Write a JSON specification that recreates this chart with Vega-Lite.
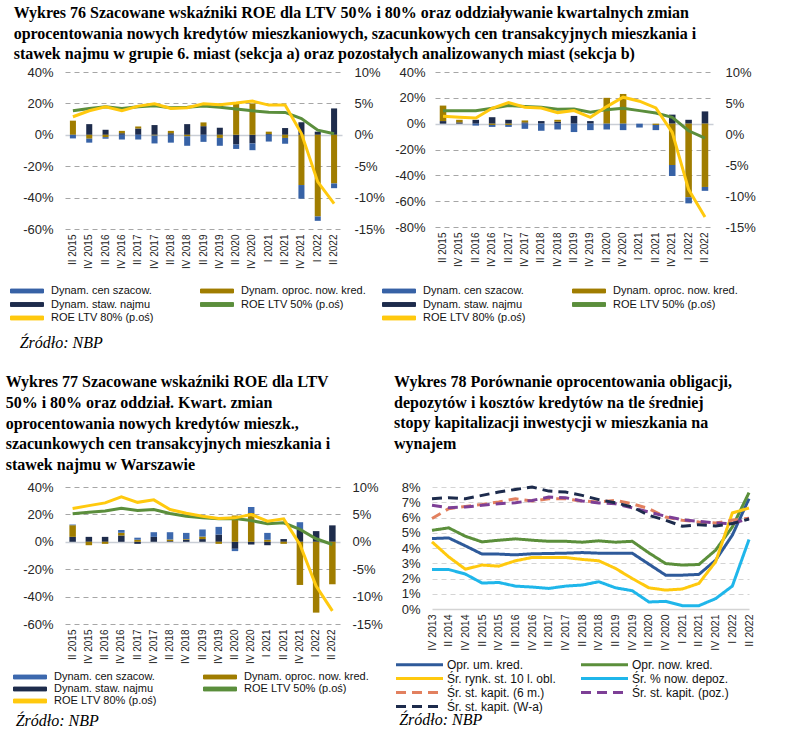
{
  "$schema": "https://vega.github.io/schema/vega-lite/v6.json",
  "background": "white",
  "padding": {"left": 5, "top": 5, "right": 5, "bottom": 0},
  "config": {
    "view": {"stroke": null},
    "font": "Liberation Sans",
    "axis": {"domain": false, "ticks": false, "labelFont": "Liberation Sans", "labelColor": "#262626"},
    "legend": {"labelFont": "Liberation Sans", "labelColor": "#111111"}
  },
  "datasets": {
    "b76a": [
      {"q":"II 2015","s":"Dynam. staw. najmu","v":0},{"q":"II 2015","s":"Dynam. oproc. now. kred.","v":9},{"q":"II 2015","s":"Dynam. cen szacow.","v":-2.3},
      {"q":"IV 2015","s":"Dynam. staw. najmu","v":6.8},{"q":"IV 2015","s":"Dynam. oproc. now. kred.","v":-2.5},{"q":"IV 2015","s":"Dynam. cen szacow.","v":-2.5},
      {"q":"II 2016","s":"Dynam. staw. najmu","v":3.2},{"q":"II 2016","s":"Dynam. oproc. now. kred.","v":-1.5},{"q":"II 2016","s":"Dynam. cen szacow.","v":-1},
      {"q":"IV 2016","s":"Dynam. staw. najmu","v":1},{"q":"IV 2016","s":"Dynam. oproc. now. kred.","v":1.5},{"q":"IV 2016","s":"Dynam. cen szacow.","v":-3},
      {"q":"II 2017","s":"Dynam. staw. najmu","v":4},{"q":"II 2017","s":"Dynam. oproc. now. kred.","v":1.3},{"q":"II 2017","s":"Dynam. cen szacow.","v":-3},
      {"q":"IV 2017","s":"Dynam. staw. najmu","v":6.2},{"q":"IV 2017","s":"Dynam. oproc. now. kred.","v":-0.5},{"q":"IV 2017","s":"Dynam. cen szacow.","v":-5},
      {"q":"II 2018","s":"Dynam. staw. najmu","v":1},{"q":"II 2018","s":"Dynam. oproc. now. kred.","v":1.5},{"q":"II 2018","s":"Dynam. cen szacow.","v":-5},
      {"q":"IV 2018","s":"Dynam. staw. najmu","v":6.8},{"q":"IV 2018","s":"Dynam. oproc. now. kred.","v":-1},{"q":"IV 2018","s":"Dynam. cen szacow.","v":-6},
      {"q":"II 2019","s":"Dynam. staw. najmu","v":5.5},{"q":"II 2019","s":"Dynam. oproc. now. kred.","v":2.4},{"q":"II 2019","s":"Dynam. cen szacow.","v":-4.5},
      {"q":"IV 2019","s":"Dynam. staw. najmu","v":4.5},{"q":"IV 2019","s":"Dynam. oproc. now. kred.","v":-2},{"q":"IV 2019","s":"Dynam. cen szacow.","v":-5},
      {"q":"II 2020","s":"Dynam. staw. najmu","v":-6.2},{"q":"II 2020","s":"Dynam. oproc. now. kred.","v":20},{"q":"II 2020","s":"Dynam. cen szacow.","v":-2.8},
      {"q":"IV 2020","s":"Dynam. staw. najmu","v":-5.5},{"q":"IV 2020","s":"Dynam. oproc. now. kred.","v":20},{"q":"IV 2020","s":"Dynam. cen szacow.","v":-4.3},
      {"q":"I 2021","s":"Dynam. staw. najmu","v":0.5},{"q":"I 2021","s":"Dynam. oproc. now. kred.","v":1.5},{"q":"I 2021","s":"Dynam. cen szacow.","v":-4.3},
      {"q":"II 2021","s":"Dynam. staw. najmu","v":4.3},{"q":"II 2021","s":"Dynam. oproc. now. kred.","v":-2},{"q":"II 2021","s":"Dynam. cen szacow.","v":-3.7},
      {"q":"IV 2021","s":"Dynam. staw. najmu","v":8},{"q":"IV 2021","s":"Dynam. oproc. now. kred.","v":-32},{"q":"IV 2021","s":"Dynam. cen szacow.","v":-8.7},
      {"q":"I 2022","s":"Dynam. staw. najmu","v":2},{"q":"I 2022","s":"Dynam. oproc. now. kred.","v":-52},{"q":"I 2022","s":"Dynam. cen szacow.","v":-2.8},
      {"q":"II 2022","s":"Dynam. staw. najmu","v":16.8},{"q":"II 2022","s":"Dynam. oproc. now. kred.","v":-31},{"q":"II 2022","s":"Dynam. cen szacow.","v":-3}
    ],
    "l76a": [
      {"q":"II 2015","s":"ROE LTV 50% (p.oś)","v":3.83},{"q":"IV 2015","s":"ROE LTV 50% (p.oś)","v":4.2},{"q":"II 2016","s":"ROE LTV 50% (p.oś)","v":4.47},{"q":"IV 2016","s":"ROE LTV 50% (p.oś)","v":4.2},{"q":"II 2017","s":"ROE LTV 50% (p.oś)","v":4.47},{"q":"IV 2017","s":"ROE LTV 50% (p.oś)","v":4.63},{"q":"II 2018","s":"ROE LTV 50% (p.oś)","v":4.3},{"q":"IV 2018","s":"ROE LTV 50% (p.oś)","v":4.4},{"q":"II 2019","s":"ROE LTV 50% (p.oś)","v":4.57},{"q":"IV 2019","s":"ROE LTV 50% (p.oś)","v":4.4},{"q":"II 2020","s":"ROE LTV 50% (p.oś)","v":4.1},{"q":"IV 2020","s":"ROE LTV 50% (p.oś)","v":3.83},{"q":"I 2021","s":"ROE LTV 50% (p.oś)","v":3.6},{"q":"II 2021","s":"ROE LTV 50% (p.oś)","v":3.56},{"q":"IV 2021","s":"ROE LTV 50% (p.oś)","v":2.6},{"q":"I 2022","s":"ROE LTV 50% (p.oś)","v":0.74},{"q":"II 2022","s":"ROE LTV 50% (p.oś)","v":0.16},
      {"q":"II 2015","s":"ROE LTV 80% (p.oś)","v":2.87},{"q":"IV 2015","s":"ROE LTV 80% (p.oś)","v":3.83},{"q":"II 2016","s":"ROE LTV 80% (p.oś)","v":4.47},{"q":"IV 2016","s":"ROE LTV 80% (p.oś)","v":3.83},{"q":"II 2017","s":"ROE LTV 80% (p.oś)","v":4.57},{"q":"IV 2017","s":"ROE LTV 80% (p.oś)","v":4.95},{"q":"II 2018","s":"ROE LTV 80% (p.oś)","v":4.2},{"q":"IV 2018","s":"ROE LTV 80% (p.oś)","v":4.3},{"q":"II 2019","s":"ROE LTV 80% (p.oś)","v":4.95},{"q":"IV 2019","s":"ROE LTV 80% (p.oś)","v":4.8},{"q":"II 2020","s":"ROE LTV 80% (p.oś)","v":5.05},{"q":"IV 2020","s":"ROE LTV 80% (p.oś)","v":5.37},{"q":"I 2021","s":"ROE LTV 80% (p.oś)","v":4.73},{"q":"II 2021","s":"ROE LTV 80% (p.oś)","v":4.73},{"q":"IV 2021","s":"ROE LTV 80% (p.oś)","v":0.2},{"q":"I 2022","s":"ROE LTV 80% (p.oś)","v":-7.5},{"q":"II 2022","s":"ROE LTV 80% (p.oś)","v":-10.96}
    ],
    "b76b": [
      {"q":"II 2015","s":"Dynam. staw. najmu","v":2},{"q":"II 2015","s":"Dynam. oproc. now. kred.","v":12},{"q":"II 2015","s":"Dynam. cen szacow.","v":0},
      {"q":"IV 2015","s":"Dynam. staw. najmu","v":1},{"q":"IV 2015","s":"Dynam. oproc. now. kred.","v":2},{"q":"IV 2015","s":"Dynam. cen szacow.","v":0},
      {"q":"II 2016","s":"Dynam. staw. najmu","v":3},{"q":"II 2016","s":"Dynam. oproc. now. kred.","v":0},{"q":"II 2016","s":"Dynam. cen szacow.","v":-1.5},
      {"q":"IV 2016","s":"Dynam. staw. najmu","v":5},{"q":"IV 2016","s":"Dynam. oproc. now. kred.","v":-1},{"q":"IV 2016","s":"Dynam. cen szacow.","v":-1.5},
      {"q":"II 2017","s":"Dynam. staw. najmu","v":3},{"q":"II 2017","s":"Dynam. oproc. now. kred.","v":-1},{"q":"II 2017","s":"Dynam. cen szacow.","v":-1.5},
      {"q":"IV 2017","s":"Dynam. staw. najmu","v":1},{"q":"IV 2017","s":"Dynam. oproc. now. kred.","v":1.5},{"q":"IV 2017","s":"Dynam. cen szacow.","v":-4},
      {"q":"II 2018","s":"Dynam. staw. najmu","v":2},{"q":"II 2018","s":"Dynam. oproc. now. kred.","v":0},{"q":"II 2018","s":"Dynam. cen szacow.","v":-5.5},
      {"q":"IV 2018","s":"Dynam. staw. najmu","v":1.5},{"q":"IV 2018","s":"Dynam. oproc. now. kred.","v":1.5},{"q":"IV 2018","s":"Dynam. cen szacow.","v":-4.5},
      {"q":"II 2019","s":"Dynam. staw. najmu","v":6},{"q":"II 2019","s":"Dynam. oproc. now. kred.","v":0},{"q":"II 2019","s":"Dynam. cen szacow.","v":-6.5},
      {"q":"IV 2019","s":"Dynam. staw. najmu","v":2},{"q":"IV 2019","s":"Dynam. oproc. now. kred.","v":0},{"q":"IV 2019","s":"Dynam. cen szacow.","v":-5},
      {"q":"II 2020","s":"Dynam. staw. najmu","v":0},{"q":"II 2020","s":"Dynam. oproc. now. kred.","v":20},{"q":"II 2020","s":"Dynam. cen szacow.","v":-4.5},
      {"q":"IV 2020","s":"Dynam. staw. najmu","v":0},{"q":"IV 2020","s":"Dynam. oproc. now. kred.","v":23},{"q":"IV 2020","s":"Dynam. cen szacow.","v":-5},
      {"q":"I 2021","s":"Dynam. staw. najmu","v":0},{"q":"I 2021","s":"Dynam. oproc. now. kred.","v":0},{"q":"I 2021","s":"Dynam. cen szacow.","v":-3},
      {"q":"II 2021","s":"Dynam. staw. najmu","v":0},{"q":"II 2021","s":"Dynam. oproc. now. kred.","v":-1},{"q":"II 2021","s":"Dynam. cen szacow.","v":-4},
      {"q":"IV 2021","s":"Dynam. staw. najmu","v":7},{"q":"IV 2021","s":"Dynam. oproc. now. kred.","v":-32},{"q":"IV 2021","s":"Dynam. cen szacow.","v":-8.5},
      {"q":"I 2022","s":"Dynam. staw. najmu","v":3},{"q":"I 2022","s":"Dynam. oproc. now. kred.","v":-57},{"q":"I 2022","s":"Dynam. cen szacow.","v":-4.7},
      {"q":"II 2022","s":"Dynam. staw. najmu","v":9.5},{"q":"II 2022","s":"Dynam. oproc. now. kred.","v":-49},{"q":"II 2022","s":"Dynam. cen szacow.","v":-3}
    ],
    "l76b": [
      {"q":"II 2015","s":"ROE LTV 50% (p.oś)","v":3.77},{"q":"IV 2015","s":"ROE LTV 50% (p.oś)","v":3.77},{"q":"II 2016","s":"ROE LTV 50% (p.oś)","v":3.77},{"q":"IV 2016","s":"ROE LTV 50% (p.oś)","v":4.15},{"q":"II 2017","s":"ROE LTV 50% (p.oś)","v":4.58},{"q":"IV 2017","s":"ROE LTV 50% (p.oś)","v":4.42},{"q":"II 2018","s":"ROE LTV 50% (p.oś)","v":4.31},{"q":"IV 2018","s":"ROE LTV 50% (p.oś)","v":3.99},{"q":"II 2019","s":"ROE LTV 50% (p.oś)","v":4.04},{"q":"IV 2019","s":"ROE LTV 50% (p.oś)","v":3.5},{"q":"II 2020","s":"ROE LTV 50% (p.oś)","v":3.93},{"q":"IV 2020","s":"ROE LTV 50% (p.oś)","v":4.15},{"q":"I 2021","s":"ROE LTV 50% (p.oś)","v":3.77},{"q":"II 2021","s":"ROE LTV 50% (p.oś)","v":3.39},{"q":"IV 2021","s":"ROE LTV 50% (p.oś)","v":2.69},{"q":"I 2022","s":"ROE LTV 50% (p.oś)","v":0.52},{"q":"II 2022","s":"ROE LTV 50% (p.oś)","v":-0.67},
      {"q":"II 2015","s":"ROE LTV 80% (p.oś)","v":2.85},{"q":"IV 2015","s":"ROE LTV 80% (p.oś)","v":2.69},{"q":"II 2016","s":"ROE LTV 80% (p.oś)","v":2.58},{"q":"IV 2016","s":"ROE LTV 80% (p.oś)","v":4.15},{"q":"II 2017","s":"ROE LTV 80% (p.oś)","v":5.07},{"q":"IV 2017","s":"ROE LTV 80% (p.oś)","v":4.31},{"q":"II 2018","s":"ROE LTV 80% (p.oś)","v":4.2},{"q":"IV 2018","s":"ROE LTV 80% (p.oś)","v":3.45},{"q":"II 2019","s":"ROE LTV 80% (p.oś)","v":3.77},{"q":"IV 2019","s":"ROE LTV 80% (p.oś)","v":2.69},{"q":"II 2020","s":"ROE LTV 80% (p.oś)","v":4.42},{"q":"IV 2020","s":"ROE LTV 80% (p.oś)","v":5.94},{"q":"I 2021","s":"ROE LTV 80% (p.oś)","v":5.29},{"q":"II 2021","s":"ROE LTV 80% (p.oś)","v":4.2},{"q":"IV 2021","s":"ROE LTV 80% (p.oś)","v":0.25},{"q":"I 2022","s":"ROE LTV 80% (p.oś)","v":-8.95},{"q":"II 2022","s":"ROE LTV 80% (p.oś)","v":-13.4}
    ],
    "b77": [
      {"q":"II 2015","s":"Dynam. staw. najmu","v":3.6},{"q":"II 2015","s":"Dynam. oproc. now. kred.","v":8.5},{"q":"II 2015","s":"Dynam. cen szacow.","v":0.5},
      {"q":"IV 2015","s":"Dynam. staw. najmu","v":3.6},{"q":"IV 2015","s":"Dynam. oproc. now. kred.","v":-2.5},{"q":"IV 2015","s":"Dynam. cen szacow.","v":0},
      {"q":"II 2016","s":"Dynam. staw. najmu","v":3.6},{"q":"II 2016","s":"Dynam. oproc. now. kred.","v":-1.5},{"q":"II 2016","s":"Dynam. cen szacow.","v":0},
      {"q":"IV 2016","s":"Dynam. staw. najmu","v":4.6},{"q":"IV 2016","s":"Dynam. oproc. now. kred.","v":2},{"q":"IV 2016","s":"Dynam. cen szacow.","v":2},
      {"q":"II 2017","s":"Dynam. staw. najmu","v":-1.5},{"q":"II 2017","s":"Dynam. oproc. now. kred.","v":1.5},{"q":"II 2017","s":"Dynam. cen szacow.","v":1.5},
      {"q":"IV 2017","s":"Dynam. staw. najmu","v":3.6},{"q":"IV 2017","s":"Dynam. oproc. now. kred.","v":0},{"q":"IV 2017","s":"Dynam. cen szacow.","v":3.4},
      {"q":"II 2018","s":"Dynam. staw. najmu","v":0.5},{"q":"II 2018","s":"Dynam. oproc. now. kred.","v":1.2},{"q":"II 2018","s":"Dynam. cen szacow.","v":5.3},
      {"q":"IV 2018","s":"Dynam. staw. najmu","v":1.5},{"q":"IV 2018","s":"Dynam. oproc. now. kred.","v":0.5},{"q":"IV 2018","s":"Dynam. cen szacow.","v":4.5},
      {"q":"II 2019","s":"Dynam. staw. najmu","v":2},{"q":"II 2019","s":"Dynam. oproc. now. kred.","v":1.8},{"q":"II 2019","s":"Dynam. cen szacow.","v":5.2},
      {"q":"IV 2019","s":"Dynam. staw. najmu","v":5.3},{"q":"IV 2019","s":"Dynam. oproc. now. kred.","v":-1.5},{"q":"IV 2019","s":"Dynam. cen szacow.","v":5.6},
      {"q":"II 2020","s":"Dynam. staw. najmu","v":-5.1},{"q":"II 2020","s":"Dynam. oproc. now. kred.","v":19.2},{"q":"II 2020","s":"Dynam. cen szacow.","v":-1.7},
      {"q":"IV 2020","s":"Dynam. staw. najmu","v":-2},{"q":"IV 2020","s":"Dynam. oproc. now. kred.","v":21},{"q":"IV 2020","s":"Dynam. cen szacow.","v":4.4},
      {"q":"I 2021","s":"Dynam. staw. najmu","v":-2.5},{"q":"I 2021","s":"Dynam. oproc. now. kred.","v":1.5},{"q":"I 2021","s":"Dynam. cen szacow.","v":5},
      {"q":"II 2021","s":"Dynam. staw. najmu","v":2},{"q":"II 2021","s":"Dynam. oproc. now. kred.","v":-1.5},{"q":"II 2021","s":"Dynam. cen szacow.","v":0},
      {"q":"IV 2021","s":"Dynam. staw. najmu","v":9},{"q":"IV 2021","s":"Dynam. oproc. now. kred.","v":-31.5},{"q":"IV 2021","s":"Dynam. cen szacow.","v":5.3},
      {"q":"I 2022","s":"Dynam. staw. najmu","v":7.8},{"q":"I 2022","s":"Dynam. oproc. now. kred.","v":-51.7},{"q":"I 2022","s":"Dynam. cen szacow.","v":0},
      {"q":"II 2022","s":"Dynam. staw. najmu","v":12},{"q":"II 2022","s":"Dynam. oproc. now. kred.","v":-31},{"q":"II 2022","s":"Dynam. cen szacow.","v":0}
    ],
    "l77": [
      {"q":"II 2015","s":"ROE LTV 50% (p.oś)","v":5.1},{"q":"IV 2015","s":"ROE LTV 50% (p.oś)","v":5.4},{"q":"II 2016","s":"ROE LTV 50% (p.oś)","v":5.64},{"q":"IV 2016","s":"ROE LTV 50% (p.oś)","v":6.13},{"q":"II 2017","s":"ROE LTV 50% (p.oś)","v":5.7},{"q":"IV 2017","s":"ROE LTV 50% (p.oś)","v":5.9},{"q":"II 2018","s":"ROE LTV 50% (p.oś)","v":5.16},{"q":"IV 2018","s":"ROE LTV 50% (p.oś)","v":4.67},{"q":"II 2019","s":"ROE LTV 50% (p.oś)","v":4.37},{"q":"IV 2019","s":"ROE LTV 50% (p.oś)","v":4.19},{"q":"II 2020","s":"ROE LTV 50% (p.oś)","v":4.25},{"q":"IV 2020","s":"ROE LTV 50% (p.oś)","v":3.88},{"q":"I 2021","s":"ROE LTV 50% (p.oś)","v":3.28},{"q":"II 2021","s":"ROE LTV 50% (p.oś)","v":3.46},{"q":"IV 2021","s":"ROE LTV 50% (p.oś)","v":2.25},{"q":"I 2022","s":"ROE LTV 50% (p.oś)","v":0.55},{"q":"II 2022","s":"ROE LTV 50% (p.oś)","v":-0.49},
      {"q":"II 2015","s":"ROE LTV 80% (p.oś)","v":6.07},{"q":"IV 2015","s":"ROE LTV 80% (p.oś)","v":6.6},{"q":"II 2016","s":"ROE LTV 80% (p.oś)","v":7.1},{"q":"IV 2016","s":"ROE LTV 80% (p.oś)","v":8.2},{"q":"II 2017","s":"ROE LTV 80% (p.oś)","v":7.2},{"q":"IV 2017","s":"ROE LTV 80% (p.oś)","v":7.65},{"q":"II 2018","s":"ROE LTV 80% (p.oś)","v":5.9},{"q":"IV 2018","s":"ROE LTV 80% (p.oś)","v":5.2},{"q":"II 2019","s":"ROE LTV 80% (p.oś)","v":4.67},{"q":"IV 2019","s":"ROE LTV 80% (p.oś)","v":4.25},{"q":"II 2020","s":"ROE LTV 80% (p.oś)","v":4.37},{"q":"IV 2020","s":"ROE LTV 80% (p.oś)","v":4.98},{"q":"I 2021","s":"ROE LTV 80% (p.oś)","v":3.76},{"q":"II 2021","s":"ROE LTV 80% (p.oś)","v":4.19},{"q":"IV 2021","s":"ROE LTV 80% (p.oś)","v":-0.5},{"q":"I 2022","s":"ROE LTV 80% (p.oś)","v":-8.07},{"q":"II 2022","s":"ROE LTV 80% (p.oś)","v":-12.6}
    ],
    "l78": [
      {"q":"IV 2013","s":"Opr. um. kred.","v":4.62},{"q":"II 2014","s":"Opr. um. kred.","v":4.66},{"q":"IV 2014","s":"Opr. um. kred.","v":4.14},{"q":"II 2015","s":"Opr. um. kred.","v":3.6},{"q":"IV 2015","s":"Opr. um. kred.","v":3.6},{"q":"II 2016","s":"Opr. um. kred.","v":3.55},{"q":"IV 2016","s":"Opr. um. kred.","v":3.62},{"q":"II 2017","s":"Opr. um. kred.","v":3.64},{"q":"IV 2017","s":"Opr. um. kred.","v":3.66},{"q":"II 2018","s":"Opr. um. kred.","v":3.7},{"q":"IV 2018","s":"Opr. um. kred.","v":3.66},{"q":"II 2019","s":"Opr. um. kred.","v":3.66},{"q":"IV 2019","s":"Opr. um. kred.","v":3.66},{"q":"II 2020","s":"Opr. um. kred.","v":2.94},{"q":"IV 2020","s":"Opr. um. kred.","v":2.22},{"q":"I 2021","s":"Opr. um. kred.","v":2.22},{"q":"II 2021","s":"Opr. um. kred.","v":2.27},{"q":"IV 2021","s":"Opr. um. kred.","v":3.2},{"q":"I 2022","s":"Opr. um. kred.","v":4.84},{"q":"II 2022","s":"Opr. um. kred.","v":7.23},
      {"q":"IV 2013","s":"Opr. now. kred.","v":5.16},{"q":"II 2014","s":"Opr. now. kred.","v":5.32},{"q":"IV 2014","s":"Opr. now. kred.","v":4.77},{"q":"II 2015","s":"Opr. now. kred.","v":4.4},{"q":"IV 2015","s":"Opr. now. kred.","v":4.51},{"q":"II 2016","s":"Opr. now. kred.","v":4.6},{"q":"IV 2016","s":"Opr. now. kred.","v":4.51},{"q":"II 2017","s":"Opr. now. kred.","v":4.44},{"q":"IV 2017","s":"Opr. now. kred.","v":4.44},{"q":"II 2018","s":"Opr. now. kred.","v":4.38},{"q":"IV 2018","s":"Opr. now. kred.","v":4.47},{"q":"II 2019","s":"Opr. now. kred.","v":4.38},{"q":"IV 2019","s":"Opr. now. kred.","v":4.44},{"q":"II 2020","s":"Opr. now. kred.","v":3.68},{"q":"IV 2020","s":"Opr. now. kred.","v":2.98},{"q":"I 2021","s":"Opr. now. kred.","v":2.88},{"q":"II 2021","s":"Opr. now. kred.","v":2.92},{"q":"IV 2021","s":"Opr. now. kred.","v":3.86},{"q":"I 2022","s":"Opr. now. kred.","v":5.38},{"q":"II 2022","s":"Opr. now. kred.","v":7.63},
      {"q":"IV 2013","s":"Śr. rynk. st. 10 l. obl.","v":4.4},{"q":"II 2014","s":"Śr. rynk. st. 10 l. obl.","v":3.42},{"q":"IV 2014","s":"Śr. rynk. st. 10 l. obl.","v":2.61},{"q":"II 2015","s":"Śr. rynk. st. 10 l. obl.","v":2.88},{"q":"IV 2015","s":"Śr. rynk. st. 10 l. obl.","v":2.81},{"q":"II 2016","s":"Śr. rynk. st. 10 l. obl.","v":3.16},{"q":"IV 2016","s":"Śr. rynk. st. 10 l. obl.","v":3.38},{"q":"II 2017","s":"Śr. rynk. st. 10 l. obl.","v":3.38},{"q":"IV 2017","s":"Śr. rynk. st. 10 l. obl.","v":3.38},{"q":"II 2018","s":"Śr. rynk. st. 10 l. obl.","v":3.25},{"q":"IV 2018","s":"Śr. rynk. st. 10 l. obl.","v":3.16},{"q":"II 2019","s":"Śr. rynk. st. 10 l. obl.","v":2.66},{"q":"IV 2019","s":"Śr. rynk. st. 10 l. obl.","v":2.0},{"q":"II 2020","s":"Śr. rynk. st. 10 l. obl.","v":1.39},{"q":"IV 2020","s":"Śr. rynk. st. 10 l. obl.","v":1.24},{"q":"I 2021","s":"Śr. rynk. st. 10 l. obl.","v":1.31},{"q":"II 2021","s":"Śr. rynk. st. 10 l. obl.","v":1.68},{"q":"IV 2021","s":"Śr. rynk. st. 10 l. obl.","v":3.1},{"q":"I 2022","s":"Śr. rynk. st. 10 l. obl.","v":6.3},{"q":"II 2022","s":"Śr. rynk. st. 10 l. obl.","v":6.62},
      {"q":"IV 2013","s":"Śr. % now. depoz.","v":2.59},{"q":"II 2014","s":"Śr. % now. depoz.","v":2.59},{"q":"IV 2014","s":"Śr. % now. depoz.","v":2.29},{"q":"II 2015","s":"Śr. % now. depoz.","v":1.7},{"q":"IV 2015","s":"Śr. % now. depoz.","v":1.74},{"q":"II 2016","s":"Śr. % now. depoz.","v":1.5},{"q":"IV 2016","s":"Śr. % now. depoz.","v":1.44},{"q":"II 2017","s":"Śr. % now. depoz.","v":1.35},{"q":"IV 2017","s":"Śr. % now. depoz.","v":1.5},{"q":"II 2018","s":"Śr. % now. depoz.","v":1.57},{"q":"IV 2018","s":"Śr. % now. depoz.","v":1.79},{"q":"II 2019","s":"Śr. % now. depoz.","v":1.39},{"q":"IV 2019","s":"Śr. % now. depoz.","v":1.2},{"q":"II 2020","s":"Śr. % now. depoz.","v":0.46},{"q":"IV 2020","s":"Śr. % now. depoz.","v":0.5},{"q":"I 2021","s":"Śr. % now. depoz.","v":0.22},{"q":"II 2021","s":"Śr. % now. depoz.","v":0.22},{"q":"IV 2021","s":"Śr. % now. depoz.","v":0.68},{"q":"I 2022","s":"Śr. % now. depoz.","v":1.5},{"q":"II 2022","s":"Śr. % now. depoz.","v":4.55},
      {"q":"IV 2013","s":"Śr. st. kapit. (6 m.)","v":5.93},{"q":"II 2014","s":"Śr. st. kapit. (6 m.)","v":6.58},{"q":"IV 2014","s":"Śr. st. kapit. (6 m.)","v":6.73},{"q":"II 2015","s":"Śr. st. kapit. (6 m.)","v":6.86},{"q":"IV 2015","s":"Śr. st. kapit. (6 m.)","v":7.02},{"q":"II 2016","s":"Śr. st. kapit. (6 m.)","v":7.23},{"q":"IV 2016","s":"Śr. st. kapit. (6 m.)","v":7.08},{"q":"II 2017","s":"Śr. st. kapit. (6 m.)","v":7.23},{"q":"IV 2017","s":"Śr. st. kapit. (6 m.)","v":7.23},{"q":"II 2018","s":"Śr. st. kapit. (6 m.)","v":7.08},{"q":"IV 2018","s":"Śr. st. kapit. (6 m.)","v":7.02},{"q":"II 2019","s":"Śr. st. kapit. (6 m.)","v":7.12},{"q":"IV 2019","s":"Śr. st. kapit. (6 m.)","v":6.9},{"q":"II 2020","s":"Śr. st. kapit. (6 m.)","v":6.58},{"q":"IV 2020","s":"Śr. st. kapit. (6 m.)","v":6.03},{"q":"I 2021","s":"Śr. st. kapit. (6 m.)","v":5.82},{"q":"II 2021","s":"Śr. st. kapit. (6 m.)","v":5.71},{"q":"IV 2021","s":"Śr. st. kapit. (6 m.)","v":5.64},{"q":"I 2022","s":"Śr. st. kapit. (6 m.)","v":5.82},{"q":"II 2022","s":"Śr. st. kapit. (6 m.)","v":5.95},
      {"q":"IV 2013","s":"Śr. st. kapit. (poz.)","v":6.8},{"q":"II 2014","s":"Śr. st. kapit. (poz.)","v":6.64},{"q":"IV 2014","s":"Śr. st. kapit. (poz.)","v":6.69},{"q":"II 2015","s":"Śr. st. kapit. (poz.)","v":6.8},{"q":"IV 2015","s":"Śr. st. kapit. (poz.)","v":6.9},{"q":"II 2016","s":"Śr. st. kapit. (poz.)","v":6.97},{"q":"IV 2016","s":"Śr. st. kapit. (poz.)","v":7.12},{"q":"II 2017","s":"Śr. st. kapit. (poz.)","v":7.34},{"q":"IV 2017","s":"Śr. st. kapit. (poz.)","v":7.3},{"q":"II 2018","s":"Śr. st. kapit. (poz.)","v":7.08},{"q":"IV 2018","s":"Śr. st. kapit. (poz.)","v":6.95},{"q":"II 2019","s":"Śr. st. kapit. (poz.)","v":6.9},{"q":"IV 2019","s":"Śr. st. kapit. (poz.)","v":6.64},{"q":"II 2020","s":"Śr. st. kapit. (poz.)","v":6.36},{"q":"IV 2020","s":"Śr. st. kapit. (poz.)","v":6.08},{"q":"I 2021","s":"Śr. st. kapit. (poz.)","v":5.86},{"q":"II 2021","s":"Śr. st. kapit. (poz.)","v":5.75},{"q":"IV 2021","s":"Śr. st. kapit. (poz.)","v":5.64},{"q":"I 2022","s":"Śr. st. kapit. (poz.)","v":5.6},{"q":"II 2022","s":"Śr. st. kapit. (poz.)","v":5.93},
      {"q":"IV 2013","s":"Śr. st. kapit. (W-a)","v":7.23},{"q":"II 2014","s":"Śr. st. kapit. (W-a)","v":7.3},{"q":"IV 2014","s":"Śr. st. kapit. (W-a)","v":7.23},{"q":"II 2015","s":"Śr. st. kapit. (W-a)","v":7.45},{"q":"IV 2015","s":"Śr. st. kapit. (W-a)","v":7.67},{"q":"II 2016","s":"Śr. st. kapit. (W-a)","v":7.84},{"q":"IV 2016","s":"Śr. st. kapit. (W-a)","v":8.0},{"q":"II 2017","s":"Śr. st. kapit. (W-a)","v":7.73},{"q":"IV 2017","s":"Śr. st. kapit. (W-a)","v":7.67},{"q":"II 2018","s":"Śr. st. kapit. (W-a)","v":7.45},{"q":"IV 2018","s":"Śr. st. kapit. (W-a)","v":7.17},{"q":"II 2019","s":"Śr. st. kapit. (W-a)","v":6.97},{"q":"IV 2019","s":"Śr. st. kapit. (W-a)","v":6.69},{"q":"II 2020","s":"Śr. st. kapit. (W-a)","v":6.14},{"q":"IV 2020","s":"Śr. st. kapit. (W-a)","v":5.82},{"q":"I 2021","s":"Śr. st. kapit. (W-a)","v":5.43},{"q":"II 2021","s":"Śr. st. kapit. (W-a)","v":5.53},{"q":"IV 2021","s":"Śr. st. kapit. (W-a)","v":5.45},{"q":"I 2022","s":"Śr. st. kapit. (W-a)","v":5.6},{"q":"II 2022","s":"Śr. st. kapit. (W-a)","v":5.9}
    ]
  },
  "vconcat": [
    {
      "title": {"text": ["Wykres 76 Szacowane wskaźniki ROE dla LTV 50% i 80% oraz oddziaływanie kwartalnych zmian", "oprocentowania nowych kredytów mieszkaniowych, szacunkowych cen transakcyjnych mieszkania i", "stawek najmu w grupie 6. miast (sekcja a) oraz pozostałych analizowanych miast (sekcja b)"], "anchor": "start", "frame": "bounds", "font": "Liberation Serif", "fontSize": 16, "fontWeight": "bold", "color": "#000000", "lineHeight": 20.3, "offset": 4, "dx": -6},
      "spacing": 9,
      "resolve": {"scale": {"color": "independent"}, "legend": {"color": "independent"}},
      "hconcat": [
        {
          "width": 277, "height": 157,
          "title": {"text": "Źródło: NBP", "orient": "bottom", "anchor": "start", "frame": "bounds", "font": "Liberation Serif", "fontStyle": "italic", "fontWeight": "normal", "fontSize": 16, "color": "#000000", "offset": 12, "dx": -3},
          "layer": [
            {
              "data": {"name": "b76a"},
              "mark": "bar",
              "encoding": {
                "x": {"field": "q", "type": "nominal", "sort": ["II 2015","IV 2015","II 2016","IV 2016","II 2017","IV 2017","II 2018","IV 2018","II 2019","IV 2019","II 2020","IV 2020","I 2021","II 2021","IV 2021","I 2022","II 2022"], "scale": {"paddingInner": 0.63, "paddingOuter": 0.3}, "axis": {"title": null, "labelAngle": -90, "labelFontSize": 10, "labelPadding": 5, "labelOverlap": false, "grid": false}},
                "y": {"field": "v", "type": "quantitative", "stack": "zero", "scale": {"domain": [-60, 40], "nice": false}, "axis": {"title": null, "values": [-60,-40,-20,0,20,40], "labelExpr": "datum.value + '%'", "labelFontSize": 13, "labelPadding": 12, "grid": true, "gridColor": {"condition": {"test": "datum.value === 0", "value": "#C9CED6"}, "value": "#A6A6A6"}, "gridDash": {"condition": {"test": "datum.value === 0", "value": []}, "value": [5, 4]}, "gridWidth": {"condition": {"test": "datum.value === 0", "value": 1.5}, "value": 1}}},
                "color": {"field": "s", "type": "nominal", "scale": {"domain": ["Dynam. cen szacow.","Dynam. oproc. now. kred.","Dynam. staw. najmu","ROE LTV 50% (p.oś)","ROE LTV 80% (p.oś)"], "range": ["#3762A6","#A07D00","#1E2C4C","#5B8E3C","#FFC90E"]}, "legend": {"orient": "none", "legendX": -39, "legendY": 213, "direction": "horizontal", "columns": 2, "title": null, "symbolType": "M-3,-0.35H3V0.35H-3Z", "symbolSize": 121, "symbolStrokeWidth": 1, "symbolOffset": -5, "labelFontSize": 11, "labelOffset": 18, "columnPadding": 44, "rowPadding": 2.5}},
                "order": {"field": "s", "sort": "descending"}
              }
            },
            {
              "data": {"name": "l76a"},
              "mark": {"type": "line", "strokeWidth": 3},
              "encoding": {
                "x": {"field": "q", "type": "nominal", "sort": ["II 2015","IV 2015","II 2016","IV 2016","II 2017","IV 2017","II 2018","IV 2018","II 2019","IV 2019","II 2020","IV 2020","I 2021","II 2021","IV 2021","I 2022","II 2022"], "scale": {"paddingInner": 0.63, "paddingOuter": 0.3}, "axis": {"title": null, "labelAngle": -90, "labelFontSize": 10, "labelPadding": 5, "labelOverlap": false, "grid": false}},
                "y": {"field": "v", "type": "quantitative", "scale": {"domain": [-15, 10], "nice": false}, "axis": {"title": null, "orient": "right", "values": [-15,-10,-5,0,5,10], "labelExpr": "datum.value + '%'", "labelFontSize": 13, "labelPadding": 12, "grid": false}},
                "color": {"field": "s", "type": "nominal", "scale": {"domain": ["Dynam. cen szacow.","Dynam. oproc. now. kred.","Dynam. staw. najmu","ROE LTV 50% (p.oś)","ROE LTV 80% (p.oś)"], "range": ["#3762A6","#A07D00","#1E2C4C","#5B8E3C","#FFC90E"]}, "legend": {"orient": "none", "legendX": -39, "legendY": 213, "direction": "horizontal", "columns": 2, "title": null, "symbolType": "M-3,-0.35H3V0.35H-3Z", "symbolSize": 121, "symbolStrokeWidth": 1, "symbolOffset": -5, "labelFontSize": 11, "labelOffset": 18, "columnPadding": 44, "rowPadding": 2.5}}
              }
            }
          ],
          "resolve": {"scale": {"y": "independent"}}
        },
        {
          "width": 278, "height": 155,
          "layer": [
            {
              "data": {"name": "b76b"},
              "mark": "bar",
              "encoding": {
                "x": {"field": "q", "type": "nominal", "sort": ["II 2015","IV 2015","II 2016","IV 2016","II 2017","IV 2017","II 2018","IV 2018","II 2019","IV 2019","II 2020","IV 2020","I 2021","II 2021","IV 2021","I 2022","II 2022"], "scale": {"paddingInner": 0.6, "paddingOuter": 0.29}, "axis": {"title": null, "labelAngle": -90, "labelFontSize": 10, "labelPadding": 5, "labelOverlap": false, "grid": false}},
                "y": {"field": "v", "type": "quantitative", "stack": "zero", "scale": {"domain": [-80, 40], "nice": false}, "axis": {"title": null, "values": [-80,-60,-40,-20,0,20,40], "labelExpr": "datum.value + '%'", "labelFontSize": 13, "labelPadding": 10, "grid": true, "gridColor": {"condition": {"test": "datum.value === 0", "value": "#C9CED6"}, "value": "#A6A6A6"}, "gridDash": {"condition": {"test": "datum.value === 0", "value": []}, "value": [5, 4]}, "gridWidth": {"condition": {"test": "datum.value === 0", "value": 1.5}, "value": 1}}},
                "color": {"field": "s", "type": "nominal", "scale": {"domain": ["Dynam. cen szacow.","Dynam. oproc. now. kred.","Dynam. staw. najmu","ROE LTV 50% (p.oś)","ROE LTV 80% (p.oś)"], "range": ["#3762A6","#A07D00","#1E2C4C","#5B8E3C","#FFC90E"]}, "legend": {"orient": "none", "legendX": -37, "legendY": 213, "direction": "horizontal", "columns": 2, "title": null, "symbolType": "M-3,-0.35H3V0.35H-3Z", "symbolSize": 121, "symbolStrokeWidth": 1, "symbolOffset": -5, "labelFontSize": 11, "labelOffset": 18, "columnPadding": 44, "rowPadding": 2.5}},
                "order": {"field": "s", "sort": "descending"}
              }
            },
            {
              "data": {"name": "l76b"},
              "mark": {"type": "line", "strokeWidth": 3},
              "encoding": {
                "x": {"field": "q", "type": "nominal", "sort": ["II 2015","IV 2015","II 2016","IV 2016","II 2017","IV 2017","II 2018","IV 2018","II 2019","IV 2019","II 2020","IV 2020","I 2021","II 2021","IV 2021","I 2022","II 2022"], "scale": {"paddingInner": 0.6, "paddingOuter": 0.29}, "axis": {"title": null, "labelAngle": -90, "labelFontSize": 10, "labelPadding": 5, "labelOverlap": false, "grid": false}},
                "y": {"field": "v", "type": "quantitative", "scale": {"domain": [-15, 10], "nice": false}, "axis": {"title": null, "orient": "right", "values": [-15,-10,-5,0,5,10], "labelExpr": "datum.value + '%'", "labelFontSize": 13, "labelPadding": 12, "grid": false}},
                "color": {"field": "s", "type": "nominal", "scale": {"domain": ["Dynam. cen szacow.","Dynam. oproc. now. kred.","Dynam. staw. najmu","ROE LTV 50% (p.oś)","ROE LTV 80% (p.oś)"], "range": ["#3762A6","#A07D00","#1E2C4C","#5B8E3C","#FFC90E"]}, "legend": {"orient": "none", "legendX": -37, "legendY": 213, "direction": "horizontal", "columns": 2, "title": null, "symbolType": "M-3,-0.35H3V0.35H-3Z", "symbolSize": 121, "symbolStrokeWidth": 1, "symbolOffset": -5, "labelFontSize": 11, "labelOffset": 18, "columnPadding": 44, "rowPadding": 2.5}}
              }
            }
          ],
          "resolve": {"scale": {"y": "independent"}}
        }
      ]
    },
    {
      "spacing": 11,
      "resolve": {"scale": {"color": "independent", "strokeDash": "independent"}, "legend": {"color": "independent", "strokeDash": "independent"}},
      "hconcat": [
        {
          "title": {"text": ["Wykres 77 Szacowane wskaźniki ROE dla LTV", "50% i 80% oraz oddział. Kwart. zmian", "oprocentowania nowych kredytów mieszk.,", "szacunkowych cen transakcyjnych mieszkania i", "stawek najmu w Warszawie"], "anchor": "start", "frame": "bounds", "font": "Liberation Serif", "fontSize": 16, "fontWeight": "bold", "color": "#000000", "lineHeight": 20.7, "offset": 8, "dx": -10},
          "vconcat": [
            {
              "width": 275, "height": 137,
              "title": {"text": "Źródło: NBP", "orient": "bottom", "anchor": "start", "frame": "bounds", "font": "Liberation Serif", "fontStyle": "italic", "fontWeight": "normal", "fontSize": 16, "color": "#000000", "offset": 50, "dx": -7},
              "layer": [
                {
                  "data": {"name": "b77"},
                  "mark": "bar",
                  "encoding": {
                    "x": {"field": "q", "type": "nominal", "sort": ["II 2015","IV 2015","II 2016","IV 2016","II 2017","IV 2017","II 2018","IV 2018","II 2019","IV 2019","II 2020","IV 2020","I 2021","II 2021","IV 2021","I 2022","II 2022"], "scale": {"paddingInner": 0.6, "paddingOuter": 0.27}, "axis": {"title": null, "labelAngle": -90, "labelFontSize": 10, "labelPadding": 5, "labelOverlap": false, "grid": false}},
                    "y": {"field": "v", "type": "quantitative", "stack": "zero", "scale": {"domain": [-60, 40], "nice": false}, "axis": {"title": null, "values": [-60,-40,-20,0,20,40], "labelExpr": "datum.value + '%'", "labelFontSize": 13, "labelPadding": 12, "grid": true, "gridColor": {"condition": {"test": "datum.value === 0", "value": "#C9CED6"}, "value": "#A6A6A6"}, "gridDash": {"condition": {"test": "datum.value === 0", "value": []}, "value": [5, 4]}, "gridWidth": {"condition": {"test": "datum.value === 0", "value": 1.5}, "value": 1}}},
                    "color": {"field": "s", "type": "nominal", "scale": {"domain": ["Dynam. cen szacow.","Dynam. oproc. now. kred.","Dynam. staw. najmu","ROE LTV 50% (p.oś)","ROE LTV 80% (p.oś)"], "range": ["#3D69AE","#A07D00","#1E2C4C","#5B8E3C","#FFC90E"]}, "legend": {"orient": "none", "legendX": -36, "legendY": 184, "direction": "horizontal", "columns": 2, "title": null, "symbolType": "M-3,-0.35H3V0.35H-3Z", "symbolSize": 121, "symbolStrokeWidth": 1, "symbolOffset": -5, "labelFontSize": 11, "labelOffset": 18, "columnPadding": 44, "rowPadding": 1}},
                    "order": {"field": "s", "sort": "descending"}
                  }
                },
                {
                  "data": {"name": "l77"},
                  "mark": {"type": "line", "strokeWidth": 3},
                  "encoding": {
                    "x": {"field": "q", "type": "nominal", "sort": ["II 2015","IV 2015","II 2016","IV 2016","II 2017","IV 2017","II 2018","IV 2018","II 2019","IV 2019","II 2020","IV 2020","I 2021","II 2021","IV 2021","I 2022","II 2022"], "scale": {"paddingInner": 0.6, "paddingOuter": 0.27}, "axis": {"title": null, "labelAngle": -90, "labelFontSize": 10, "labelPadding": 5, "labelOverlap": false, "grid": false}},
                    "y": {"field": "v", "type": "quantitative", "scale": {"domain": [-15, 10], "nice": false}, "axis": {"title": null, "orient": "right", "values": [-15,-10,-5,0,5,10], "labelExpr": "datum.value + '%'", "labelFontSize": 13, "labelPadding": 12, "grid": false}},
                    "color": {"field": "s", "type": "nominal", "scale": {"domain": ["Dynam. cen szacow.","Dynam. oproc. now. kred.","Dynam. staw. najmu","ROE LTV 50% (p.oś)","ROE LTV 80% (p.oś)"], "range": ["#3D69AE","#A07D00","#1E2C4C","#5B8E3C","#FFC90E"]}, "legend": {"orient": "none", "legendX": -36, "legendY": 184, "direction": "horizontal", "columns": 2, "title": null, "symbolType": "M-3,-0.35H3V0.35H-3Z", "symbolSize": 121, "symbolStrokeWidth": 1, "symbolOffset": -5, "labelFontSize": 11, "labelOffset": 18, "columnPadding": 44, "rowPadding": 1}}
                  }
                }
              ],
              "resolve": {"scale": {"y": "independent"}}
            }
          ]
        },
        {
          "title": {"text": ["Wykres 78 Porównanie oprocentowania obligacji,", "depozytów i kosztów kredytów na tle średniej", "stopy kapitalizacji inwestycji w mieszkania na", "wynajem"], "anchor": "start", "frame": "bounds", "font": "Liberation Serif", "fontSize": 16, "fontWeight": "bold", "color": "#000000", "lineHeight": 20.7, "offset": 29, "dx": -2},
          "vconcat": [
            {
              "width": 317, "height": 122,
              "title": {"text": "Źródło: NBP", "orient": "bottom", "anchor": "start", "frame": "bounds", "font": "Liberation Serif", "fontStyle": "italic", "fontWeight": "normal", "fontSize": 16, "color": "#000000", "offset": 62, "dx": -2},
              "data": {"name": "l78"},
              "mark": {"type": "line", "strokeWidth": 3},
              "encoding": {
                "x": {"field": "q", "type": "nominal", "sort": ["IV 2013","II 2014","IV 2014","II 2015","IV 2015","II 2016","IV 2016","II 2017","IV 2017","II 2018","IV 2018","II 2019","IV 2019","II 2020","IV 2020","I 2021","II 2021","IV 2021","I 2022","II 2022"], "scale": {"type": "point", "padding": 0}, "axis": {"title": null, "labelAngle": -90, "labelFontSize": 10.5, "labelPadding": 5, "labelOverlap": false, "grid": false}},
                "y": {"field": "v", "type": "quantitative", "scale": {"domain": [0, 8], "nice": false}, "axis": {"title": null, "values": [0,1,2,3,4,5,6,7,8], "labelExpr": "datum.value + '%'", "labelFontSize": 13, "labelPadding": 12, "grid": true, "gridColor": "#D4D4D4", "gridDash": {"condition": {"test": "datum.value === 0", "value": []}, "value": [5, 4]}, "gridWidth": {"condition": {"test": "datum.value === 0", "value": 1.5}, "value": 1}}},
                "color": {"field": "s", "type": "nominal", "scale": {"domain": ["Opr. um. kred.","Opr. now. kred.","Śr. rynk. st. 10 l. obl.","Śr. % now. depoz.","Śr. st. kapit. (6 m.)","Śr. st. kapit. (poz.)","Śr. st. kapit. (W-a)"], "range": ["#2E5A9A","#5B8F3B","#FFC90E","#1FB6EA","#E2805F","#7D3F96","#1D2B4C"]}, "legend": {"orient": "none", "legendX": -36, "legendY": 170, "direction": "horizontal", "columns": 2, "title": null, "symbolType": "M-4,0H4", "symbolSize": 138, "symbolStrokeWidth": 3, "symbolOffset": 16, "labelFontSize": 12, "labelOffset": 20, "columnPadding": 19, "rowPadding": -4}},
                "strokeDash": {"field": "s", "type": "nominal", "scale": {"domain": ["Opr. um. kred.","Opr. now. kred.","Śr. rynk. st. 10 l. obl.","Śr. % now. depoz.","Śr. st. kapit. (6 m.)","Śr. st. kapit. (poz.)","Śr. st. kapit. (W-a)"], "range": [[1,0],[1,0],[1,0],[1,0],[10,6],[10,6],[10,6]]}, "legend": {"orient": "none", "legendX": -36, "legendY": 170, "direction": "horizontal", "columns": 2, "title": null, "symbolType": "M-4,0H4", "symbolSize": 138, "symbolStrokeWidth": 3, "symbolOffset": 16, "labelFontSize": 12, "labelOffset": 20, "columnPadding": 19, "rowPadding": -4}}
              }
            }
          ]
        }
      ]
    }
  ],
  "spacing": 22,
  "resolve": {"scale": {"color": "independent", "strokeDash": "independent"}, "legend": {"color": "independent", "strokeDash": "independent"}}
}
